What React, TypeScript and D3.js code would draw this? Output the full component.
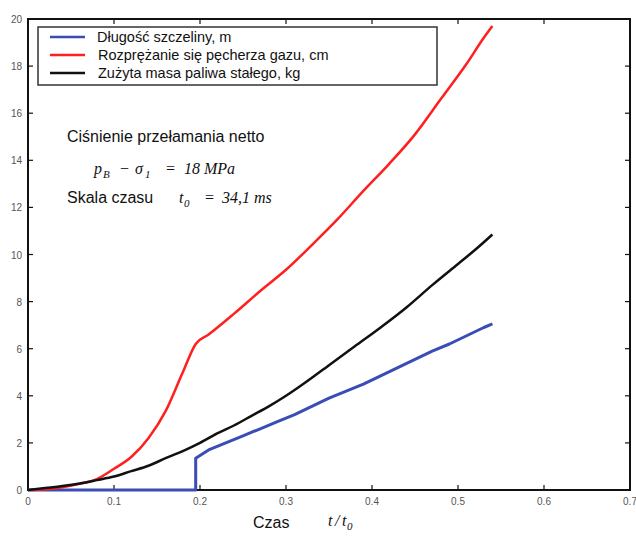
import React, { useRef, useEffect } from 'react';
import * as d3 from 'd3';

// Długość szczeliny, m (blue)
const blueT = [0, 0.195, 0.195, 0.21, 0.23, 0.25, 0.27, 0.29, 0.31, 0.33, 0.35, 0.37, 0.39, 0.41, 0.43, 0.45, 0.47, 0.49, 0.51, 0.53, 0.54];
const blueV = [0, 0, 1.35, 1.7, 2.0, 2.3, 2.6, 2.9, 3.2, 3.55, 3.9, 4.2, 4.5, 4.85, 5.2, 5.55, 5.9, 6.2, 6.55, 6.9, 7.05];

// Rozprężanie się pęcherza gazu, cm (red)
const redT = [0, 0.02, 0.04, 0.06, 0.08, 0.10, 0.12, 0.14, 0.16, 0.18, 0.195, 0.21, 0.24, 0.27, 0.30, 0.33, 0.36, 0.39, 0.42, 0.45, 0.48, 0.51, 0.53, 0.54];
const redV = [0, 0.03, 0.12, 0.26, 0.46, 0.9, 1.4, 2.2, 3.35, 5.0, 6.2, 6.6, 7.5, 8.45, 9.35, 10.4, 11.5, 12.7, 13.85, 15.1, 16.6, 18.1, 19.2, 19.7];

// Zużyta masa paliwa stałego, kg (black)
const blackT = [0, 0.02, 0.04, 0.06, 0.08, 0.10, 0.12, 0.14, 0.16, 0.18, 0.20, 0.22, 0.24, 0.26, 0.28, 0.30, 0.32, 0.35, 0.38, 0.41, 0.44, 0.47, 0.50, 0.52, 0.54];
const blackV = [0, 0.08, 0.17, 0.28, 0.42, 0.57, 0.8, 1.03, 1.35, 1.65, 2.0, 2.4, 2.75, 3.15, 3.55, 4.0, 4.5, 5.3, 6.1, 6.9, 7.75, 8.7, 9.6, 10.2, 10.85];

const xTicks = [0, 0.1, 0.2, 0.3, 0.4, 0.5, 0.6, 0.7];
const yTicks = [0, 2, 4, 6, 8, 10, 12, 14, 16, 18, 20];

const seriesNames = ['Długość szczeliny, m', 'Rozprężanie się pęcherza gazu, cm', 'Zużyta masa paliwa stałego, kg'];
const seriesColors = ['#3a4db5', '#ff1f1f', '#111111'];

const App = () => {
  const svgRef = useRef<SVGSVGElement>(null);

  useEffect(() => {
    const svg = d3.select(svgRef.current);
    svg.selectAll('*').remove();

    const left = 28, right = 630, top = 19, bottom = 490;
    const x = d3.scaleLinear().domain([0, 0.7]).range([left, right]);
    const y = d3.scaleLinear().domain([0, 20]).range([bottom, top]);
    const sans = 'Arial, Liberation Sans, sans-serif';
    const serif = 'Times New Roman, Liberation Serif, serif';

    // frame
    svg.append('rect')
      .attr('x', left).attr('y', top)
      .attr('width', right - left).attr('height', bottom - top)
      .attr('fill', 'none').attr('stroke', '#111').attr('stroke-width', 2);

    // inward ticks on all four sides
    const tickLen = 5;
    xTicks.slice(1, -1).forEach(t => {
      svg.append('line').attr('x1', x(t)).attr('x2', x(t)).attr('y1', bottom).attr('y2', bottom - tickLen).attr('stroke', '#111').attr('stroke-width', 1.2);
      svg.append('line').attr('x1', x(t)).attr('x2', x(t)).attr('y1', top).attr('y2', top + tickLen).attr('stroke', '#111').attr('stroke-width', 1.2);
    });
    yTicks.slice(1, -1).forEach(v => {
      svg.append('line').attr('x1', left).attr('x2', left + tickLen).attr('y1', y(v)).attr('y2', y(v)).attr('stroke', '#111').attr('stroke-width', 1.2);
      svg.append('line').attr('x1', right).attr('x2', right - tickLen).attr('y1', y(v)).attr('y2', y(v)).attr('stroke', '#111').attr('stroke-width', 1.2);
    });

    // tick labels
    svg.append('g').selectAll('text').data(xTicks).enter().append('text')
      .attr('x', d => x(d)).attr('y', bottom + 15)
      .attr('text-anchor', 'middle')
      .attr('font-family', sans).attr('font-size', 10)
      .attr('fill', '#555')
      .text(d => String(d));
    svg.append('g').selectAll('text').data(yTicks).enter().append('text')
      .attr('x', 22).attr('y', d => y(d) + 4)
      .attr('text-anchor', 'end')
      .attr('font-family', sans).attr('font-size', 10)
      .attr('fill', '#555')
      .text(d => String(d));

    // lines
    const series = [
      { t: blueT, v: blueV, w: 3, curve: d3.curveLinear },
      { t: redT, v: redV, w: 2.5, curve: d3.curveMonotoneX },
      { t: blackT, v: blackV, w: 2.5, curve: d3.curveMonotoneX },
    ];
    series.forEach((s, i) => {
      const line = d3.line<[number, number]>().x(d => x(d[0])).y(d => y(d[1])).curve(s.curve);
      const pts = s.t.map((t, j) => [t, s.v[j]] as [number, number]);
      svg.append('path')
        .attr('d', line(pts))
        .attr('fill', 'none')
        .attr('stroke', seriesColors[i])
        .attr('stroke-width', s.w)
        .attr('stroke-linejoin', 'round');
    });

    // legend
    svg.append('rect')
      .attr('x', 38).attr('y', 27).attr('width', 399).attr('height', 58)
      .attr('fill', '#fff').attr('stroke', '#333').attr('stroke-width', 1.5);
    seriesNames.forEach((name, i) => {
      const ly = 37 + i * 18;
      svg.append('line').attr('x1', 50).attr('x2', 85).attr('y1', ly).attr('y2', ly)
        .attr('stroke', seriesColors[i]).attr('stroke-width', 2.5);
      svg.append('text').attr('x', i === 0 ? 97 : 98).attr('y', ly + 5)
        .attr('font-family', sans).attr('font-size', 14.5)
        .attr('fill', '#111').text(name);
    });

    // annotations
    svg.append('text').attr('x', 67).attr('y', 142)
      .attr('font-family', sans).attr('font-size', 16).attr('fill', '#111')
      .text('Ciśnienie przełamania netto');

    const it = (xx: number, yy: number, txt: string, size = 16, style = 'italic') =>
      svg.append('text').attr('x', xx).attr('y', yy)
        .attr('font-family', serif).attr('font-size', size).attr('font-style', style)
        .attr('fill', '#111').text(txt);

    // p_B − σ_1 = 18 MPa
    it(94, 174, 'p');
    it(103, 178, 'B', 11);
    it(120, 174, '−', 16, 'normal');
    it(135, 174, 'σ');
    it(145, 178, '1', 11);
    it(166, 174, '=', 16, 'normal');
    it(184, 174, '18 MPa');

    svg.append('text').attr('x', 67).attr('y', 203)
      .attr('font-family', sans).attr('font-size', 16).attr('fill', '#111')
      .text('Skala czasu');
    // t_0 = 34,1 ms
    it(179, 203, 't');
    it(184, 207, '0', 11);
    it(205, 203, '=', 16, 'normal');
    it(222, 203, '34,1 ms');

    // x axis title
    svg.append('text').attr('x', 253).attr('y', 528)
      .attr('font-family', sans).attr('font-size', 16).attr('fill', '#111')
      .text('Czas');
    it(328, 526, 't');
    it(335, 526, '/');
    it(342, 526, 't');
    it(347, 530, '0', 11);
  }, []);

  return (
    <div style={{ position: 'absolute', left: 0, top: 0 }}>
      <svg ref={svgRef} width={636} height={536} style={{ display: 'block', background: '#fff' }} />
    </div>
  );
};

export default App;
